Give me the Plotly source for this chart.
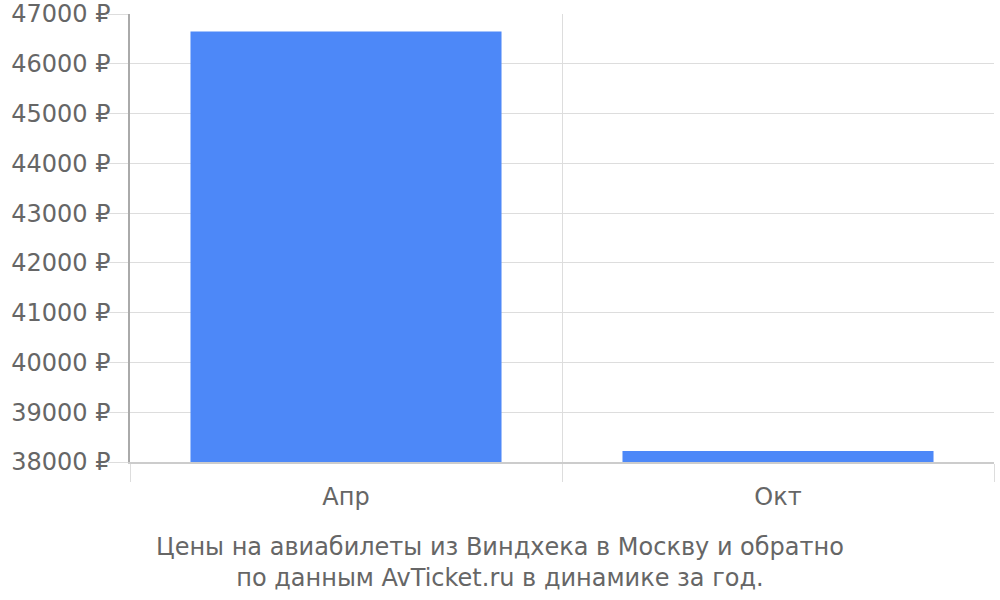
import plotly.graph_objects as go

months = ["Апр", "Окт"]
prices = [46650, 38220]
y_ticks = list(range(38000, 47001, 1000))
y_labels = [f"{v} ₽" for v in y_ticks]

title_text = "Цены на авиабилеты из Виндхека в Москву и обратно<br>по данным AvTicket.ru в динамике за год."

fig = go.Figure()
fig.add_trace(go.Bar(x=months, y=prices, marker=dict(color="#4d88f8", line=dict(width=0)),
                     hoverinfo="x+y"))

fig.update_layout(
    width=1000, height=600,
    margin=dict(l=130, r=6, t=14, b=138, autoexpand=False),
    paper_bgcolor="white", plot_bgcolor="white",
    font=dict(family="DejaVu Sans", size=24, color="#666666"),
    bargap=0.28,
    showlegend=False,
)
fig.add_annotation(text=title_text, x=0.428, xref="paper", xanchor="center",
                   y=-0.155, yref="paper", yanchor="top", showarrow=False,
                   font=dict(size=24, color="#666666"))

fig.update_xaxes(type="category", tickson="boundaries", ticks="outside", ticklen=18,
                 tickcolor="#dddddd", showgrid=True, gridcolor="#dddddd", gridwidth=1,
                 showline=True, linecolor="#cccccc", linewidth=2, zeroline=False,
                 automargin=False, ticklabelstandoff=12,
                 tickfont=dict(size=24, color="#666666"))
fig.update_yaxes(range=[38000, 47000], tickvals=y_ticks, ticktext=y_labels,
                 ticks="outside", ticklen=20, tickcolor="#dddddd",
                 showgrid=True, gridcolor="#dddddd", zeroline=False,
                 showline=True, linecolor="#aaaaaa", linewidth=1.5,
                 automargin=False, ticklabelstandoff=-7,
                 tickfont=dict(size=24, color="#666666"))

# the page has a default 8px body margin; drop it so the figure sits at 0,0
fig.write_html("out.html", config={"displayModeBar": False},
               post_script="document.body.style.margin='0';")
